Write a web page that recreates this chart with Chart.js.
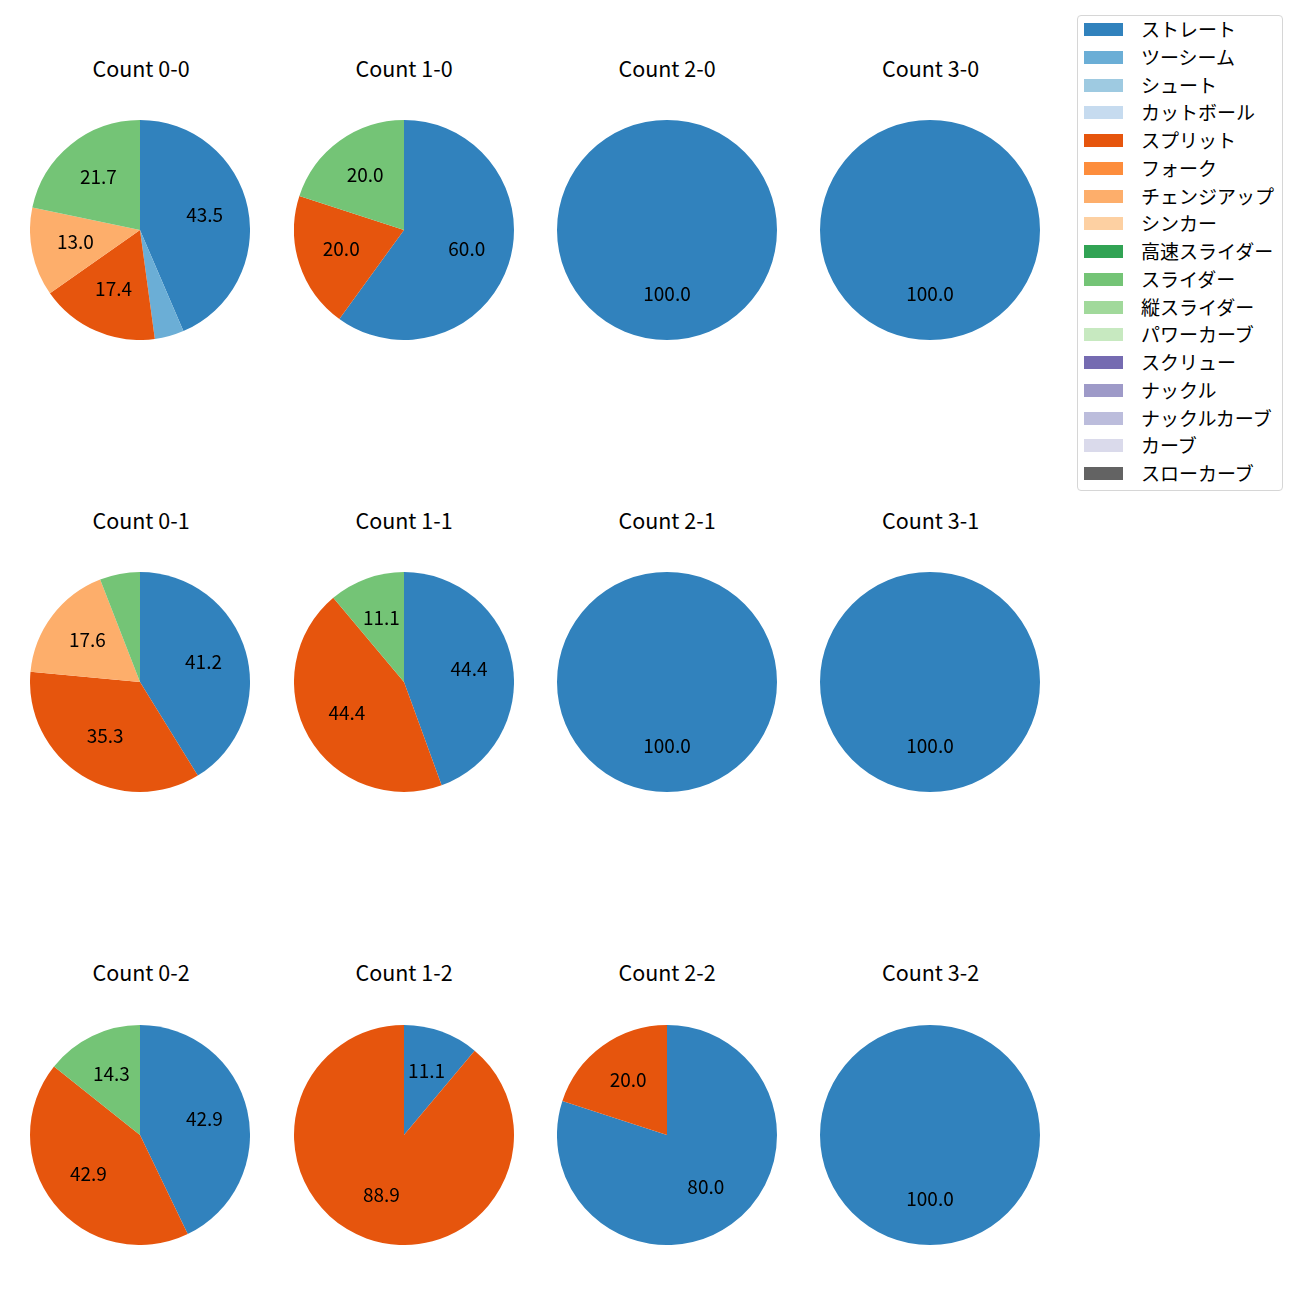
<!DOCTYPE html>
<html>
<head>
<meta charset="utf-8">
<script src="https://cdn.jsdelivr.net/npm/chart.js@4.4.1/dist/chart.umd.min.js"></script>
<style>
  body { margin: 0; background: #fff; font-family: "Noto Sans CJK JP", "Noto Sans", sans-serif; }
  #page { position: relative; width: 1300px; height: 1300px; }
  .pie { position: absolute; }
  .ttl { position: absolute; font-size: 21.5px; color: #000; transform: translate(-50%, -50%); white-space: nowrap; }
  #legend { position: absolute; left: 1077px; top: 15px; width: 206px; height: 476px;
            border: 1px solid #d6d6d6; border-radius: 4px; box-sizing: border-box; }
  .item { position: absolute; left: 6px; height: 20px; font-size: 19px; line-height: 20px; white-space: nowrap; }
  .item span.sw { position: absolute; left: 0; top: 4px; width: 39px; height: 13px; }
  .item span.tx { position: absolute; left: 57px; top: 0px; }
</style>
</head>
<body>
<div id="page"><div id="legend"></div></div>
<script>
// pitch types and colours (tab20c)
const pitchTypes = ['ストレート', 'ツーシーム', 'シュート', 'カットボール', 'スプリット', 'フォーク',
  'チェンジアップ', 'シンカー', '高速スライダー', 'スライダー', '縦スライダー', 'パワーカーブ',
  'スクリュー', 'ナックル', 'ナックルカーブ', 'カーブ', 'スローカーブ'];
const colors = ['#3182bd', '#6baed6', '#9ecae1', '#c6dbef', '#e6550d', '#fd8d3c', '#fdae6b', '#fdd0a2',
  '#31a354', '#74c476', '#a1d99b', '#c7e9c0', '#756bb1', '#9e9ac8', '#bcbddc', '#dadaeb', '#636363'];

// counts, row by row
const counts = ['0-0', '1-0', '2-0', '3-0', '0-1', '1-1', '2-1', '3-1', '0-2', '1-2', '2-2', '3-2'];

// share (%) of each pitch type per count, same order as counts
const straight  = [43.5, 60.0, 100, 100, 41.2, 44.4, 100, 100, 42.9, 11.1, 80.0, 100];
const twoSeam   = [4.3, 0, 0, 0, 0, 0, 0, 0, 0, 0, 0, 0];
const split     = [17.4, 20.0, 0, 0, 35.3, 44.4, 0, 0, 42.9, 88.9, 20.0, 0];
const changeup  = [13.0, 0, 0, 0, 17.6, 0, 0, 0, 0, 0, 0, 0];
const slider    = [21.7, 20.0, 0, 0, 5.9, 11.1, 0, 0, 14.3, 0, 0, 0];

const colX = [140, 404, 667, 930];
const rowY = [229.5, 682, 1134.5];
const titleX = [141, 404, 667, 930.5];
const titleY = [66.5, 518.5, 970.5];
const R = 110;

// percent labels at 0.6 of the radius, hidden for small slices
const pctLabels = {
  id: 'pctLabels',
  afterDatasetsDraw(chart) {
    const ctx = chart.ctx;
    const vals = chart.data.datasets[0].data;
    chart.getDatasetMeta(0).data.forEach((arc, i) => {
      const v = vals[i];
      if (!v || v < 10) return;
      const p = arc.getProps(['x', 'y', 'startAngle', 'endAngle', 'outerRadius'], true);
      const mid = (p.startAngle + p.endAngle) / 2;
      const d = p.outerRadius * 0.6;
      ctx.save();
      ctx.font = '19px "Noto Sans CJK JP"';
      ctx.fillStyle = '#000';
      ctx.textAlign = 'center';
      ctx.textBaseline = 'middle';
      ctx.fillText(v.toFixed(1), p.x + Math.cos(mid) * d, p.y + Math.sin(mid) * d - 2);
      ctx.restore();
    });
  }
};

const page = document.getElementById('page');
counts.forEach((c, k) => {
  const col = k % 4, row = Math.floor(k / 4);
  const values = pitchTypes.map(() => 0);
  values[0] = straight[k];
  values[1] = twoSeam[k];
  values[4] = split[k];
  values[6] = changeup[k];
  values[9] = slider[k];

  const t = document.createElement('div');
  t.className = 'ttl';
  t.style.left = titleX[col] + 'px';
  t.style.top = titleY[row] + 'px';
  t.textContent = 'Count ' + c;
  page.appendChild(t);

  const cv = document.createElement('canvas');
  cv.className = 'pie';
  cv.width = R * 2;
  cv.height = R * 2;
  cv.style.left = (colX[col] - R) + 'px';
  cv.style.top = (rowY[row] - R) + 'px';
  page.appendChild(cv);

  new Chart(cv, {
    type: 'pie',
    data: {
      labels: pitchTypes,
      datasets: [{ data: values, backgroundColor: colors, borderWidth: 0 }]
    },
    options: {
      responsive: false,
      animation: false,
      layout: { padding: 0 },
      plugins: { legend: { display: false }, tooltip: { enabled: false } }
    },
    plugins: [pctLabels]
  });
});

// legend
const lg = document.getElementById('legend');
pitchTypes.forEach((name, i) => {
  const it = document.createElement('div');
  it.className = 'item';
  it.style.top = (3 + i * 27.75) + 'px';
  it.innerHTML = '<span class="sw" style="background:' + colors[i] + '"></span><span class="tx">' + name + '</span>';
  lg.appendChild(it);
});
</script>
</body>
</html>
